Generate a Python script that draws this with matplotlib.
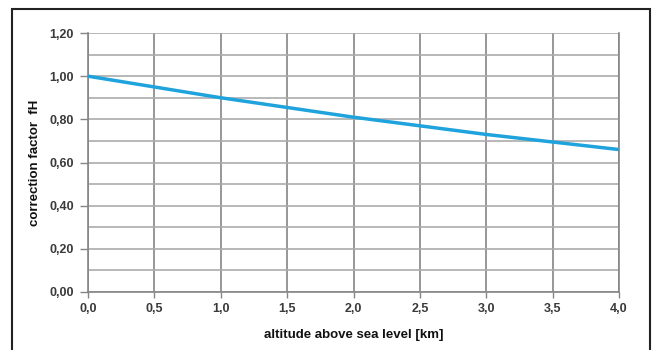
import matplotlib.pyplot as plt
from matplotlib.patches import Rectangle
import numpy as np

# altitude above sea level [km] and correction factor fH
altitude = [0.0, 0.5, 1.0, 1.5, 2.0, 2.5, 3.0, 3.5, 4.0]
factor = [1.00, 0.95, 0.90, 0.855, 0.81, 0.77, 0.73, 0.695, 0.66]

x_ticks = [0.0, 0.5, 1.0, 1.5, 2.0, 2.5, 3.0, 3.5, 4.0]
y_ticks = [0.0, 0.2, 0.4, 0.6, 0.8, 1.0, 1.2]

plt.rcParams['font.family'] = ['Liberation Sans', 'DejaVu Sans']

fig = plt.figure(figsize=(6.57, 3.5), dpi=100)
ax = fig.add_axes([88 / 657, 58 / 350, (619 - 88) / 657, (292 - 33) / 350])

# outer frame
fig.patches.append(Rectangle((12 / 657, -0.02), (650 - 12) / 657, (350 - 9) / 350 + 0.02,
                             transform=fig.transFigure, fill=False,
                             edgecolor='#222222', linewidth=1.5))

ax.plot(altitude, factor, color='#1fa3dc', linewidth=2.5, zorder=3)

ax.set_xlim(0, 4.0)
ax.set_ylim(0, 1.2)
ax.set_xticks(x_ticks)
ax.set_yticks(y_ticks)
ax.set_yticks(np.arange(0.1, 1.2, 0.2), minor=True)
ax.set_xticklabels([f"{v:.1f}".replace('.', ',') for v in x_ticks])
ax.set_yticklabels([f"{v:.2f}".replace('.', ',') for v in y_ticks])

ax.grid(True, which='major', axis='x', color='#858585', linewidth=1.2)
ax.grid(True, which='both', axis='y', color='#ababab', linewidth=1.2)
ax.set_axisbelow(True)

for side in ['left', 'bottom', 'right', 'top']:
    ax.spines[side].set_color('#858585')
    ax.spines[side].set_linewidth(1.2)
ax.spines['top'].set_visible(False)

ax.tick_params(axis='both', which='major', labelsize=9, colors='#858585',
               labelcolor='#3a3a3a', width=1.0)
ax.tick_params(axis='y', which='major', length=6, pad=4)
ax.tick_params(axis='y', which='minor', length=0)
ax.tick_params(axis='x', length=4, pad=4)
for lbl in ax.get_xticklabels() + ax.get_yticklabels():
    lbl.set_fontweight('bold')

ax.set_xlabel('altitude above sea level [km]', fontsize=9.5, fontweight='bold',
              color='#111111', labelpad=10)
ax.set_ylabel('correction factor  fH', fontsize=9.5, fontweight='bold',
              color='#111111', labelpad=6)

fig.savefig('out.png', dpi=100)
